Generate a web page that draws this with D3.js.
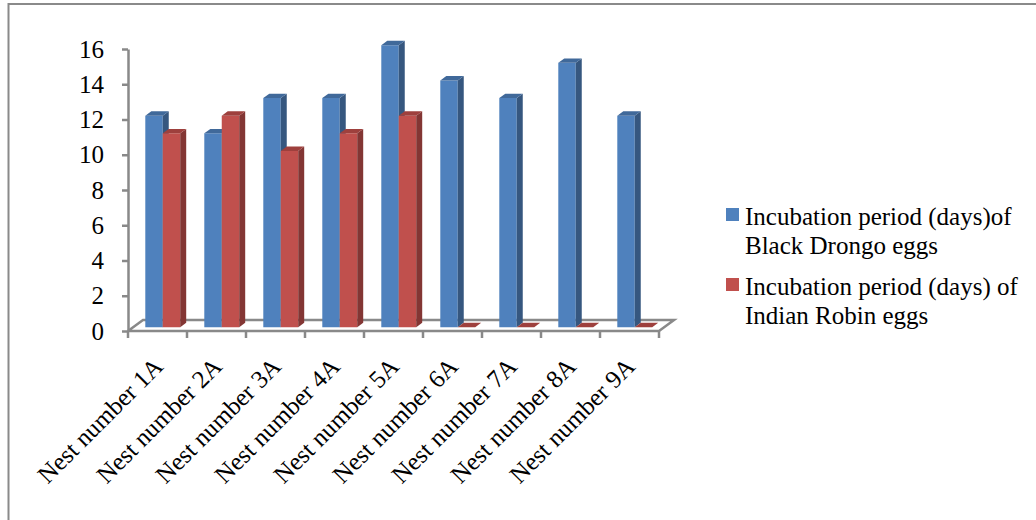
<!DOCTYPE html>
<html>
<head>
<meta charset="utf-8">
<script src="https://cdn.jsdelivr.net/npm/d3@7/dist/d3.min.js"></script>
<style>
  html, body { margin: 0; padding: 0; background: #fff; }
  svg { display: block; }
  svg text { font-family: "Liberation Serif", "Times New Roman", Times, serif; }
</style>
</head>
<body>
<svg id="chart" width="1036" height="520"></svg>
<script>
// Incubation periods per nest
const categories = ["Nest number 1A", "Nest number 2A", "Nest number 3A", "Nest number 4A",
  "Nest number 5A", "Nest number 6A", "Nest number 7A", "Nest number 8A", "Nest number 9A"];
const drongoDays = [12, 11, 13, 13, 16, 14, 13, 15, 12];
const robinDays = [11, 12, 10, 11, 12, 0, 0, 0, 0];
const legendLines = [["Incubation period (days)of", "Black Drongo eggs"],
  ["Incubation period (days) of", "Indian Robin eggs"]];
const yTicks = [0, 2, 4, 6, 8, 10, 12, 14, 16];

const serif = "Liberation Serif";
const fontSize = 25;
const svg = d3.select("#chart");

// outer frame
svg.append("rect")
  .attr("x", 8.5).attr("y", 4).attr("width", 1040).attr("height", 530)
  .attr("fill", "none").attr("stroke", "#8a8a8a").attr("stroke-width", 2);

const plotLeft = 128, plotRight = 659, plotBottom = 331, plotTop = 49;
const depth = { dx: 15, dy: -11 };
const f0 = 0.35, f1 = 0.75;   // bar front/back position inside the floor depth

const x = d3.scaleBand().domain(categories).range([plotLeft, plotRight]).paddingInner(0).paddingOuter(0);
const xs = d3.scaleBand().domain([0, 1]).range([0, x.bandwidth()]).paddingInner(0).paddingOuter(0.69);
const y = d3.scaleLinear().domain([0, 16]).range([plotBottom, plotTop]);

const gridColor = "#898989";

// floor
const floor = svg.append("g");
floor.append("path")
  .attr("d", d3.line()([
    [plotLeft, plotBottom], [plotRight, plotBottom],
    [plotRight + depth.dx, plotBottom + depth.dy], [plotLeft + depth.dx, plotBottom + depth.dy],
    [plotLeft, plotBottom]
  ]))
  .attr("fill", "none").attr("stroke", gridColor).attr("stroke-width", 2.5)
  .attr("stroke-linejoin", "miter");
// category dividers on the front edge
const edges = categories.map(c => x(c)).concat([plotRight]);
floor.selectAll("line.cat").data(edges).join("line")
  .attr("class", "cat")
  .attr("x1", d => d).attr("x2", d => d)
  .attr("y1", plotBottom).attr("y2", plotBottom + 7)
  .attr("stroke", gridColor).attr("stroke-width", 2.5);

// value axis
const yAxis = d3.axisLeft(y).tickValues(yTicks).tickSize(6).tickSizeOuter(0).tickPadding(18)
  .tickFormat(d3.format("d"));
const ya = svg.append("g").attr("transform", `translate(${plotLeft},0)`).call(yAxis)
  .attr("font-family", serif).attr("font-size", fontSize);
ya.select(".domain").attr("stroke", gridColor).attr("stroke-width", 2.5);
ya.selectAll(".tick line").attr("stroke", gridColor).attr("stroke-width", 2.5);
ya.selectAll(".tick text").attr("font-family", serif).attr("font-size", fontSize).attr("fill", "#000");

// bars
const palette = [
  { front: "#4F81BD", side: "#36577F", top: "#40699A" },
  { front: "#C0504D", side: "#833634", top: "#9E403D" }
];
const series = [drongoDays, robinDays];

function barFaces(x0, w, v) {
  const yv = y(v), y0 = y(0);
  const ax = f0 * depth.dx, ay = f0 * depth.dy, bx = f1 * depth.dx, by = f1 * depth.dy;
  return {
    front: [[x0 + ax, yv + ay], [x0 + w + ax, yv + ay], [x0 + w + ax, y0 + ay], [x0 + ax, y0 + ay]],
    side: [[x0 + w + ax, yv + ay], [x0 + w + bx, yv + by], [x0 + w + bx, y0 + by], [x0 + w + ax, y0 + ay]],
    top: [[x0 + ax, yv + ay], [x0 + w + ax, yv + ay], [x0 + w + bx, yv + by], [x0 + bx, yv + by]]
  };
}

const bars = svg.append("g");
categories.forEach((cat, i) => {
  series.forEach((vals, s) => {
    const x0 = x(cat) + xs(s), w = xs.bandwidth();
    const faces = barFaces(x0, w, vals[i]);
    const g = bars.append("g").attr("class", "bar");
    ["front", "side", "top"].forEach(k => {
      g.append("polygon")
        .attr("points", faces[k].map(p => p.join(",")).join(" "))
        .attr("fill", palette[s][k]);
    });
  });
});

// category labels
svg.append("g").selectAll("text").data(categories).join("text")
  .attr("transform", d => `translate(${x(d) + x.bandwidth() / 2 + 7},${368}) rotate(-45)`)
  .attr("text-anchor", "end")
  .attr("font-family", serif)
  .attr("font-size", fontSize).attr("fill", "#000")
  .text(d => d);

// legend
const legend = svg.append("g").attr("transform", "translate(726,0)");
const legendTop = [208, 278];
legendLines.forEach((lines, s) => {
  legend.append("rect")
    .attr("x", 0).attr("y", legendTop[s]).attr("width", 13).attr("height", 13)
    .attr("fill", palette[s].front);
  const t = legend.append("text")
    .attr("x", 19).attr("y", legendTop[s] + 17)
    .attr("font-family", serif)
    .attr("font-size", fontSize).attr("fill", "#000");
  lines.forEach((line, j) => {
    t.append("tspan").attr("x", 19).attr("dy", j === 0 ? 0 : 28.5).text(line);
  });
});
</script>
</body>
</html>
